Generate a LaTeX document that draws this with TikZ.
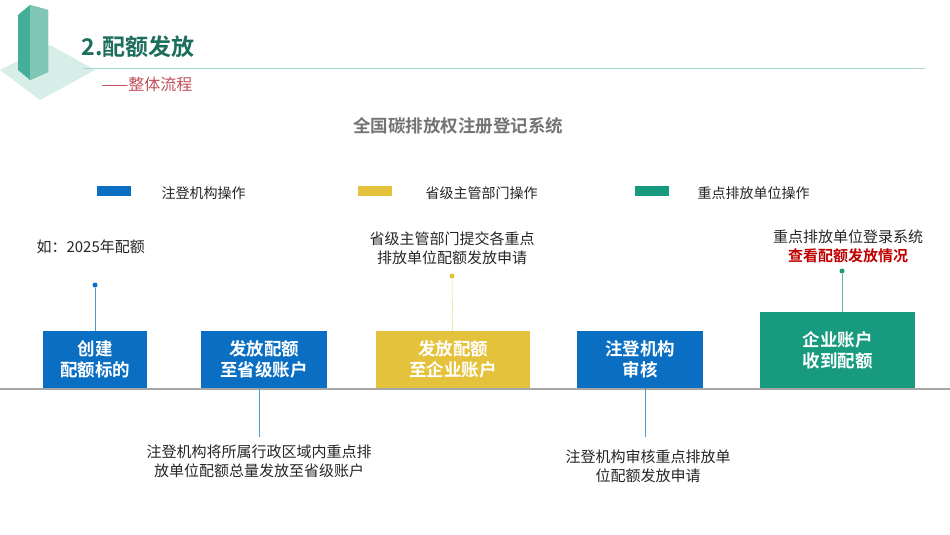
\documentclass[tikz,border=0pt]{standalone}
\usepackage{fontspec}
\setmainfont{Noto Sans CJK SC}
\newfontfamily\cjkb{Noto Sans CJK SC Bold}
\usetikzlibrary{positioning}
\definecolor{regblue}{HTML}{0A6FC2}
\definecolor{provyel}{HTML}{E5C23C}
\definecolor{entgrn}{HTML}{179A7E}
\definecolor{headgrn}{HTML}{1D6E5C}
\definecolor{subred}{HTML}{C0505A}
\tikzset{
  step/.style={fill=#1, text=white, font=\cjkb\fontsize{17.5}{21}\selectfont,
    align=center, inner sep=0pt},
  note/.style={font=\fontsize{15}{19}\selectfont, align=center, text=black!85},
  pin/.style={draw=#1!70, thin},
  dot/.style={circle, fill=#1, inner sep=0pt, minimum size=5pt},
  key/.style={fill=#1, minimum width=34pt, minimum height=10pt, inner sep=0pt},
}
\begin{document}
\begin{tikzpicture}[x=1pt,y=-1pt]
  \useasboundingbox[fill=white] (0,0) rectangle (950,535);
  % ------- header -------
  \fill[entgrn!35, opacity=0.5] (0,70) -- (50,45) -- (95,70) -- (40,100) -- cycle;
  \fill[entgrn!80] (18,15) -- (30,5) -- (48,10) -- (48,72) -- (30,80) -- (18,70) -- cycle;
  \fill[entgrn!55] (30,5) -- (48,10) -- (48,72) -- (30,80) -- cycle;
  \node[anchor=west, text=headgrn, font=\cjkb\fontsize{23}{26}\selectfont] (head) at (78,47) {2.配额发放};
  \draw[entgrn!40] (83,68) -- (925,68);
  \node[anchor=west, text=subred, font=\fontsize{16}{18}\selectfont] (sub) at (98,84) {——整体流程};
  \node[text=black!55, font=\cjkb\fontsize{17.5}{20}\selectfont] (sys) at (458,126) {全国碳排放权注册登记系统};
  % ------- legend -------
  \node[key=regblue] (k1) at (114,191) {};
  \node[key=provyel] (k2) at (375,191) {};
  \node[key=entgrn] (k3) at (652,191) {};
  \node[note, anchor=west, font=\fontsize{14}{16}\selectfont] at (158,193) {注登机构操作};
  \node[note, anchor=west, font=\fontsize{14}{16}\selectfont] at (422,193) {省级主管部门操作};
  \node[note, anchor=west, font=\fontsize{14}{16}\selectfont] at (694,193) {重点排放单位操作};
  % ------- axis -------
  \draw[gray!70, line width=1.2pt] (0,389) -- (950,389);
  % ------- steps -------
  \node[step=regblue, minimum width=104pt, minimum height=57pt] (s1) at (95,359.5) {创建\\配额标的};
  \node[step=regblue, minimum width=126pt, minimum height=57pt] (s2) at (264,359.5) {发放配额\\至省级账户};
  \node[step=provyel, minimum width=154pt, minimum height=57pt] (s3) at (453,359.5) {发放配额\\至企业账户};
  \node[step=regblue, minimum width=126pt, minimum height=57pt] (s4) at (640,359.5) {注登机构\\审核};
  \node[step=entgrn, minimum width=155pt, minimum height=76pt] (s5) at (837.5,350) {企业账户\\收到配额};
  % ------- pins -------
  \node[dot=regblue] (d1) at (95,285) {};
  \node[dot=provyel] (d3) at (452,276) {};
  \node[dot=entgrn] (d5) at (842,271) {};
  \coordinate (d2) at (259,437);
  \coordinate (d4) at (645,437);
  \draw[pin=regblue] (d1) -- (s1);
  \draw[pin=provyel] (d3) -- (s3);
  \draw[pin=entgrn] (d5) -- (s5.north -| d5);
  \draw[pin=regblue] (s2.south -| d2) -- (d2);
  \draw[pin=regblue] (s4.south -| d4) -- (d4);
  % ------- notes -------
  \node[note, anchor=west] (n1) at (33,247) {如：2025年配额};
  \node[note] (n3) at (452,248) {省级主管部门提交各重点\\排放单位配额发放申请};
  \node[note] (n5) at (848,246) {重点排放单位登录系统\\\textcolor{red!75!black}{\cjkb 查看配额发放情况}};
  \node[note] (n2) at (259,461) {注登机构将所属行政区域内重点排\\放单位配额总量发放至省级账户};
  \node[note] (n4) at (648,466) {注登机构审核重点排放单\\位配额发放申请};
\end{tikzpicture}
\end{document}
